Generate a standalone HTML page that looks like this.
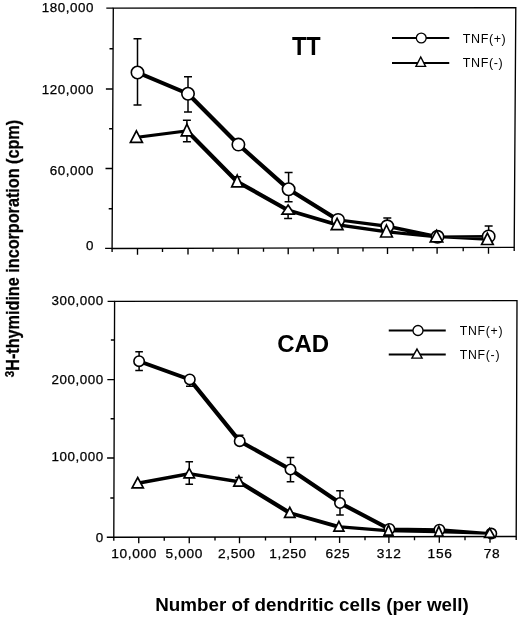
<!DOCTYPE html>
<html lang="en">
<head>
<meta charset="utf-8">
<title>Figure</title>
<style>
html,body{margin:0;padding:0;background:#fff;}
svg{display:block;filter:grayscale(1);}
text{font-family:"Liberation Sans",Arial,Helvetica,sans-serif;}
</style>
</head>
<body>
<svg width="520" height="619" viewBox="0 0 520 619">
<rect width="520" height="619" fill="#fff"/>
<g stroke="#000" stroke-width="1.35" fill="none" stroke-linecap="butt">
<path d="M113.3 8.1L515.8 7.7L514.2 247.4L112.1 248.5Z"/>
<path d="M106.3 8.1H113.3M105.9 89H112.9M105.5 168.5H112.5M105.1 248.4H112.1M109.5 48.75H113.1M109.1 128.75H112.7M108.7 208.75H112.3M137.5 248.43V254.63M188 248.29V254.49M238.25 248.15V254.35M288.2 248.02V254.22M338 247.88V254.08M387.5 247.75V253.95M437.1 247.61V253.81M488.5 247.47V253.67M162.5 248.36V251.96M213 248.22V251.82M263.5 248.09V251.69M313.5 247.95V251.55M363 247.81V251.41M413 247.68V251.28M463.2 247.54V251.14M112.1 248.5V252.1M514.2 247.4V251"/>
</g>
<path d="M137.5 38.75V72.5M133.5 38.75H141.5M137.5 72.5V105M133.5 105H141.5M188 76.75V93.75M184 76.75H192M188 93.75V112M184 112H192M288.6 172.5V189.25M284.6 172.5H292.6M288.6 189.25V201.7M284.6 201.7H292.6M387.3 218.1V226.3M383.3 218.1H391.3M488.65 226V236.4M484.65 226H492.65M186.9 120.3V130.79M182.9 120.3H190.9M186.9 130.79V141.7M182.9 141.7H190.9M237.2 176.8V181.69M233.2 176.8H241.2M288.1 210.14V218.5M284.1 218.5H292.1" stroke="#000" stroke-width="1.5" fill="none"/>
<path d="M136 71L139 71L189.5 92.25L189.5 95.25L186.5 95.25L136 74ZM186.5 92.25L189.5 92.25L239.9 143.1L239.9 146.1L236.9 146.1L186.5 95.25ZM236.9 143.1L239.9 143.1L290.1 187.75L290.1 190.75L287.1 190.75L236.9 146.1ZM287.1 187.75L290.1 187.75L339.6 218.4L339.6 221.4L336.6 221.4L287.1 190.75ZM336.65 218.45L339.55 218.45L388.75 224.85L388.75 227.75L385.85 227.75L336.65 221.35ZM385.85 224.85L388.75 224.85L438.95 235.35L438.95 238.25L436.05 238.25L385.85 227.75ZM436.2 235.5L487.35 235.1L489.95 235.1L489.95 237.7L438.8 238.1L436.2 238.1ZM135 135.88L185.5 129.39L188.3 129.39L188.3 132.19L137.8 138.68L135 138.68ZM185.4 129.29L188.4 129.29L238.7 180.19L238.7 183.19L235.7 183.19L185.4 132.29ZM235.7 180.19L238.7 180.19L289.6 208.64L289.6 211.64L286.6 211.64L235.7 183.19ZM286.6 208.64L289.6 208.64L338.6 223.22L338.6 226.22L335.6 226.22L286.6 211.64ZM335.65 223.27L338.55 223.27L387.95 230.31L387.95 233.21L385.05 233.21L335.65 226.17ZM385.1 230.36L387.9 230.36L437.9 235.42L437.9 238.22L435.1 238.22L385.1 233.16ZM435.3 235.62L437.7 235.62L488.6 238.32L488.6 240.72L486.2 240.72L435.3 238.02Z" fill="#000" fill-rule="nonzero"/>
<circle cx="137.5" cy="72.5" r="6.2" fill="#fff" stroke="#000" stroke-width="1.6"/>
<circle cx="188" cy="93.75" r="6.2" fill="#fff" stroke="#000" stroke-width="1.6"/>
<circle cx="238.4" cy="144.6" r="6.2" fill="#fff" stroke="#000" stroke-width="1.6"/>
<circle cx="288.6" cy="189.25" r="6.2" fill="#fff" stroke="#000" stroke-width="1.6"/>
<circle cx="338.1" cy="219.9" r="6.2" fill="#fff" stroke="#000" stroke-width="1.6"/>
<circle cx="387.3" cy="226.3" r="6.2" fill="#fff" stroke="#000" stroke-width="1.6"/>
<circle cx="437.5" cy="236.8" r="6.2" fill="#fff" stroke="#000" stroke-width="1.6"/>
<circle cx="488.65" cy="236.4" r="6.2" fill="#fff" stroke="#000" stroke-width="1.6"/>
<path d="M136.4 130.8L142.4 142.3H130.4Z" fill="#fff" stroke="#000" stroke-width="1.7" stroke-linejoin="miter"/>
<path d="M186.9 124.2L192.5 135.9H181.3Z" fill="#fff" stroke="#000" stroke-width="1.7" stroke-linejoin="miter"/>
<path d="M237.2 175.1L242.7 186.8H231.7Z" fill="#fff" stroke="#000" stroke-width="1.7" stroke-linejoin="miter"/>
<path d="M288.1 205L294.2 214.1H282Z" fill="#fff" stroke="#000" stroke-width="1.7" stroke-linejoin="miter"/>
<path d="M337.1 218.3L342.95 229.7H331.25Z" fill="#fff" stroke="#000" stroke-width="1.7" stroke-linejoin="miter"/>
<path d="M386.5 225L392.35 237H380.65Z" fill="#fff" stroke="#000" stroke-width="1.7" stroke-linejoin="miter"/>
<path d="M436.5 230.4L442.7 241.8H430.3Z" fill="#fff" stroke="#000" stroke-width="1.7" stroke-linejoin="miter"/>
<path d="M487.4 233.1L493.2 244.5H481.6Z" fill="#fff" stroke="#000" stroke-width="1.7" stroke-linejoin="miter"/>
<g stroke="#000" stroke-width="1.35" fill="none" stroke-linecap="butt">
<path d="M114.6 301.3L517 300.6L516.2 536.5L113.8 537.2Z"/>
<path d="M107.6 301.3H114.6M107.33 379.6H114.33M107.07 458H114.07M106.8 537.2H113.8M110.87 340H114.47M110.6 418.75H114.2M110.33 498H113.93M138.75 537.16V543.36M189.25 537.07V543.27M239.5 536.98V543.18M290.5 536.89V543.09M339.6 536.81V543.01M388.9 536.72V542.92M439.3 536.63V542.83M490 536.55V542.75M164.25 537.11V540.71M215 537.02V540.62M265.5 536.94V540.54M315.5 536.85V540.45M365 536.76V540.36M414.5 536.68V540.28M465 536.59V540.19M113.8 537.2V540.8M516.2 536.5V540.1"/>
</g>
<path d="M139.1 351.8V361.2M135.3 351.8H142.9M139.1 361.2V370.6M135.3 370.6H142.9M189.8 379.4V386.3M186 386.3H193.6M239.7 435.3V441.2M235.9 435.3H243.5M290.5 457.5V469.5M286.7 457.5H294.3M290.5 469.5V481.75M286.7 481.75H294.3M340 490.75V503M336.2 490.75H343.8M340 503V515M336.2 515H343.8M189.25 461.75V473.76M185.45 461.75H193.05M189.25 473.76V484.25M185.45 484.25H193.05M238.9 477.4V481.75M235.1 477.4H242.7" stroke="#000" stroke-width="1.5" fill="none"/>
<path d="M137.6 359.7L140.6 359.7L191.3 377.9L191.3 380.9L188.3 380.9L137.6 362.7ZM188.3 377.9L191.3 377.9L241.2 439.7L241.2 442.7L238.2 442.7L188.3 380.9ZM238.2 439.7L241.2 439.7L292 468L292 471L289 471L238.2 442.7ZM289 468L292 468L341.5 501.5L341.5 504.5L338.5 504.5L289 471ZM338.5 501.5L341.5 501.5L390.9 527.4L390.9 530.4L387.9 530.4L338.5 504.5ZM388 527.5L390.8 527.5L440.8 528.3L440.8 531.1L438 531.1L388 530.3ZM438.05 528.35L440.75 528.35L492.65 532.25L492.65 534.95L489.95 534.95L438.05 531.05ZM136.15 481.76L187.7 472.21L190.8 472.21L190.8 475.31L139.25 484.86L136.15 484.86ZM187.7 472.21L190.8 472.21L240.45 480.2L240.45 483.3L237.35 483.3L187.7 475.31ZM237.35 480.2L240.45 480.2L291.35 511.39L291.35 514.49L288.25 514.49L237.35 483.3ZM288.25 511.39L291.35 511.39L340.45 525.32L340.45 528.42L337.35 528.42L288.25 514.49ZM337.4 525.37L340.4 525.37L390 529.28L390 532.28L387 532.28L337.4 528.37ZM387.1 529.38L389.9 529.38L440.2 530.48L440.2 533.28L437.4 533.28L387.1 532.18ZM437.45 530.53L440.15 530.53L491.05 532.07L491.05 534.77L488.35 534.77L437.45 533.23Z" fill="#000" fill-rule="nonzero"/>
<circle cx="139.1" cy="361.2" r="5.2" fill="#fff" stroke="#000" stroke-width="1.6"/>
<circle cx="189.8" cy="379.4" r="5.2" fill="#fff" stroke="#000" stroke-width="1.6"/>
<circle cx="239.7" cy="441.2" r="5.2" fill="#fff" stroke="#000" stroke-width="1.6"/>
<circle cx="290.5" cy="469.5" r="5.2" fill="#fff" stroke="#000" stroke-width="1.6"/>
<circle cx="340" cy="503" r="5.2" fill="#fff" stroke="#000" stroke-width="1.6"/>
<circle cx="389.4" cy="528.9" r="5.2" fill="#fff" stroke="#000" stroke-width="1.6"/>
<circle cx="439.4" cy="529.7" r="5.2" fill="#fff" stroke="#000" stroke-width="1.6"/>
<circle cx="491.3" cy="533.6" r="5.2" fill="#fff" stroke="#000" stroke-width="1.6"/>
<path d="M137.7 477.5L143.3 487.8H132.1Z" fill="#fff" stroke="#000" stroke-width="1.7" stroke-linejoin="miter"/>
<path d="M189.25 468.4L194.45 477.9H184.05Z" fill="#fff" stroke="#000" stroke-width="1.7" stroke-linejoin="miter"/>
<path d="M238.9 476L244 486.2H233.8Z" fill="#fff" stroke="#000" stroke-width="1.7" stroke-linejoin="miter"/>
<path d="M289.8 507.3L295 517.3H284.6Z" fill="#fff" stroke="#000" stroke-width="1.7" stroke-linejoin="miter"/>
<path d="M338.9 521.4L343.9 531.1H333.9Z" fill="#fff" stroke="#000" stroke-width="1.7" stroke-linejoin="miter"/>
<path d="M388.5 525.2L392.9 535.1H384.1Z" fill="#fff" stroke="#000" stroke-width="1.7" stroke-linejoin="miter"/>
<path d="M438.8 526.3L443.1 536.2H434.5Z" fill="#fff" stroke="#000" stroke-width="1.7" stroke-linejoin="miter"/>
<path d="M489.7 528.4L494.8 537.3H484.6Z" fill="#fff" stroke="#000" stroke-width="1.7" stroke-linejoin="miter"/>
<path d="M392 38H449.25M392 63H449.25" stroke="#000" stroke-width="1.8" fill="none"/>
<circle cx="421.25" cy="38" r="4.9" fill="#fff" stroke="#000" stroke-width="1.3"/>
<path d="M420.75 57.05L425.55 66.4H415.95Z" fill="#fff" stroke="#000" stroke-width="1.4"/>
<path d="M388.75 330.5H445.75M388.75 354.5H445.75" stroke="#000" stroke-width="1.8" fill="none"/>
<circle cx="418" cy="330.5" r="5" fill="#fff" stroke="#000" stroke-width="1.3"/>
<path d="M417 349.05L422.1 358.15H411.9Z" fill="#fff" stroke="#000" stroke-width="1.4"/>
<g font-family="'Liberation Sans', Arial, Helvetica, sans-serif" fill="#000">
<text transform="translate(93.95 11.8) scale(1.09 1)" font-size="12.3" text-anchor="end" font-weight="normal" letter-spacing="0.5" stroke="#000" stroke-width="0.25" >180,000</text>
<text transform="translate(93.95 93.6) scale(1.09 1)" font-size="12.3" text-anchor="end" font-weight="normal" letter-spacing="0.5" stroke="#000" stroke-width="0.25" >120,000</text>
<text transform="translate(93.95 174.6) scale(1.09 1)" font-size="12.3" text-anchor="end" font-weight="normal" letter-spacing="0.5" stroke="#000" stroke-width="0.25" >60,000</text>
<text transform="translate(93.95 250.2) scale(1.09 1)" font-size="12.3" text-anchor="end" font-weight="normal" letter-spacing="0.5" stroke="#000" stroke-width="0.25" >0</text>
<text transform="translate(103.75 304.6) scale(1.09 1)" font-size="12.3" text-anchor="end" font-weight="normal" letter-spacing="0.5" stroke="#000" stroke-width="0.25" >300,000</text>
<text transform="translate(103.75 384.2) scale(1.09 1)" font-size="12.3" text-anchor="end" font-weight="normal" letter-spacing="0.5" stroke="#000" stroke-width="0.25" >200,000</text>
<text transform="translate(103.75 461.4) scale(1.09 1)" font-size="12.3" text-anchor="end" font-weight="normal" letter-spacing="0.5" stroke="#000" stroke-width="0.25" >100,000</text>
<text transform="translate(103.75 541.8) scale(1.09 1)" font-size="12.3" text-anchor="end" font-weight="normal" letter-spacing="0.5" stroke="#000" stroke-width="0.25" >0</text>
<text transform="translate(111.2 558) scale(1.09 1)" font-size="12.6" text-anchor="start" font-weight="normal" letter-spacing="0.6" stroke="#000" stroke-width="0.25" >10,000</text>
<text transform="translate(165.45 558) scale(1.09 1)" font-size="12.6" text-anchor="start" font-weight="normal" letter-spacing="0.6" stroke="#000" stroke-width="0.25" >5,000</text>
<text transform="translate(217.95 558) scale(1.09 1)" font-size="12.6" text-anchor="start" font-weight="normal" letter-spacing="0.6" stroke="#000" stroke-width="0.25" >2,500</text>
<text transform="translate(269.2 558) scale(1.09 1)" font-size="12.6" text-anchor="start" font-weight="normal" letter-spacing="0.6" stroke="#000" stroke-width="0.25" >1,250</text>
<text transform="translate(325.45 558) scale(1.09 1)" font-size="12.6" text-anchor="start" font-weight="normal" letter-spacing="0.6" stroke="#000" stroke-width="0.25" >625</text>
<text transform="translate(376.7 558) scale(1.09 1)" font-size="12.6" text-anchor="start" font-weight="normal" letter-spacing="0.6" stroke="#000" stroke-width="0.25" >312</text>
<text transform="translate(427.6 558) scale(1.09 1)" font-size="12.6" text-anchor="start" font-weight="normal" letter-spacing="0.6" stroke="#000" stroke-width="0.25" >156</text>
<text transform="translate(483.8 558) scale(1.09 1)" font-size="12.6" text-anchor="start" font-weight="normal" letter-spacing="0.6" stroke="#000" stroke-width="0.25" >78</text>
<text transform="translate(292 55) scale(0.94 1)" font-size="25" text-anchor="start" font-weight="bold" letter-spacing="0" >TT</text>
<text transform="translate(277.2 352) scale(0.98 1)" font-size="24.5" text-anchor="start" font-weight="bold" letter-spacing="0" >CAD</text>
<text x="462.8" y="42.5" font-size="12.5" text-anchor="start" font-weight="normal" letter-spacing="0.6" >TNF(+)</text>
<text x="462.8" y="67.3" font-size="12.5" text-anchor="start" font-weight="normal" letter-spacing="0.6" >TNF(-)</text>
<text x="459.8" y="335" font-size="12.3" text-anchor="start" font-weight="normal" letter-spacing="0.7" >TNF(+)</text>
<text x="459.8" y="358.75" font-size="12.3" text-anchor="start" font-weight="normal" letter-spacing="0.7" >TNF(-)</text>
<text x="155.2" y="610.75" font-size="17.8" text-anchor="start" font-weight="bold" letter-spacing="0" textLength="313.5" lengthAdjust="spacingAndGlyphs">Number of dendritic cells (per well)</text>
<text transform="translate(19 377.2) rotate(-90)" font-size="17.6" font-weight="bold" stroke="#000" stroke-width="0.3" textLength="257.3" lengthAdjust="spacingAndGlyphs"><tspan font-size="12.6" dy="-4.6">3</tspan><tspan dy="4.6">H-thymidine incorporation (cpm)</tspan></text>
</g>
</svg>
</body>
</html>
